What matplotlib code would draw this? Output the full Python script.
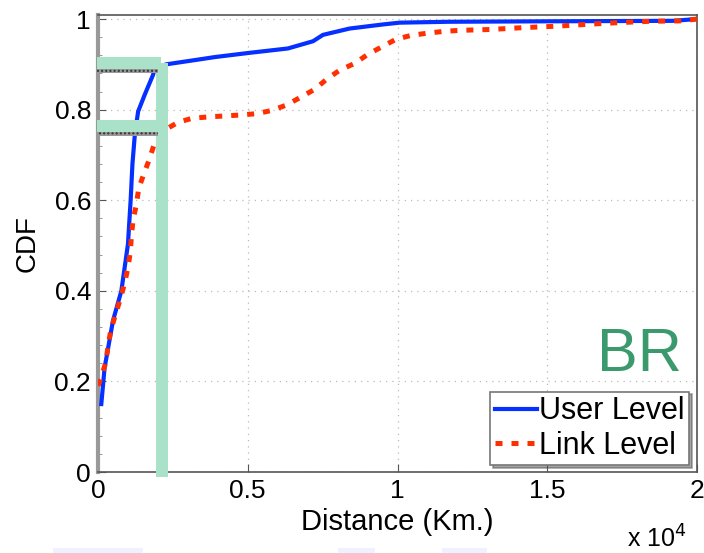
import numpy as np
import matplotlib.pyplot as plt
from matplotlib.patches import Rectangle

# ---- data (distance in km, CDF) ----
user_km = [110, 220, 500, 780, 1000, 1090, 1150, 1230, 1340, 1560, 1840, 1890,
           2280, 3400, 3900, 5010, 6340, 7180, 7510, 8400, 9510, 10070, 11740,
           15000, 19200, 20000]
user_cdf = [0.15, 0.23, 0.334, 0.40, 0.503, 0.60, 0.68, 0.745, 0.796, 0.833,
            0.877, 0.891, 0.90, 0.911, 0.916, 0.925, 0.935, 0.951, 0.965, 0.979,
            0.988, 0.992, 0.994, 0.995, 0.996, 1.0]

link_km = [0, 110, 260, 335, 425, 590, 750, 890, 1000, 1080, 1115, 1170, 1280, 1360,
           1530, 1690, 1870, 2230, 2670, 3150, 3710, 4730, 5290, 5790, 6290, 6730,
           7240, 7630, 8070, 8570, 9010, 9460, 9940, 10460, 11020, 11580, 12080,
           13130, 14180, 15250, 16250, 17360, 18420, 19520, 20000]
link_cdf = [0.19, 0.21, 0.242, 0.278, 0.312, 0.349, 0.383, 0.417, 0.451, 0.486,
            0.521, 0.556, 0.59, 0.626, 0.658, 0.686, 0.722, 0.755, 0.772, 0.781,
            0.784, 0.788, 0.791, 0.798, 0.810, 0.826, 0.845, 0.867, 0.887, 0.902,
            0.922, 0.938, 0.955, 0.964, 0.969, 0.973, 0.975, 0.977, 0.981, 0.984,
            0.988, 0.992, 0.995, 0.996, 1.0]

x_ticks = [0, 5000, 10000, 15000, 20000]
x_ticklabels = ["0", "0.5", "1", "1.5", "2"]
y_ticks = [0, 0.2, 0.4, 0.6, 0.8, 1.0]
y_ticklabels = ["0", "0.2", "0.4", "0.6", "0.8", "1"]

# highlight marks (km cut, CDF levels)
cut_km = 2120
cut_user = 0.902
cut_link = 0.763

plt.rcParams["font.family"] = ["Liberation Sans", "DejaVu Sans"]

fig = plt.figure(figsize=(7.04, 5.53), dpi=100)
ax = fig.add_axes([98 / 704, 81 / 553, 599 / 704, 457.5 / 553])

ax.plot(user_km, user_cdf, color="#0530ff", lw=3.0, label="User Level", zorder=3)
ax.plot(link_km, link_cdf, color="#ff2f00", lw=3.6, ls=(0, (1.4, 1.8)),
        label="Link Level", zorder=3)

ax.set_xlim(0, 20000)
ax.set_ylim(0, 1.01)
ax.set_xticks(x_ticks)
ax.set_xticklabels(x_ticklabels)
ax.set_yticks(y_ticks)
ax.set_yticklabels(y_ticklabels)
ax.set_yticks(np.arange(0, 1.01, 0.04), minor=True)
ax.tick_params(direction="in", labelsize=19, length=6, color="#555555", pad=5)
ax.tick_params(which="minor", direction="in", length=3, color="#888888")
ax.grid(True, ls=(0, (1, 4)), color="#bbbbbb", lw=0.9)
for s in ax.spines.values():
    s.set_color("#555555")
    s.set_linewidth(1.2)
ax.spines["left"].set_color("#999999")
ax.spines["left"].set_linewidth(3)

ax.set_xlabel("Distance (Km.)", fontsize=21, labelpad=4)
ax.set_ylabel("CDF", fontsize=20, labelpad=10)

fig.text(627 / 704, 1 - 548 / 553, "x 10$^4$", fontsize=18)

leg = ax.legend(loc="lower right", bbox_to_anchor=(0.997, 0.001), fontsize=22,
                handlelength=1.4, handletextpad=0.05, borderpad=0.15,
                labelspacing=0.15, borderaxespad=0.2, fancybox=False, shadow=True,
                edgecolor="#777777", framealpha=1)
leg.get_frame().set_linewidth(1.2)

ax.text(0.975, 0.193, "BR", transform=ax.transAxes, ha="right", va="bottom",
        fontsize=44, color="#3a9a6e")

# green highlight overlays
green = "#a9e2c9"
dx = 350
ax.add_patch(Rectangle((-50, cut_user - 0.012), cut_km + 50, 0.027,
                       facecolor=green, edgecolor="none", clip_on=False, zorder=4))
ax.add_patch(Rectangle((-50, cut_link - 0.012), cut_km + 50, 0.026,
                       facecolor=green, edgecolor="none", clip_on=False, zorder=4))
ax.add_patch(Rectangle((cut_km - dx / 2, -0.011), dx + 40, cut_user + 0.013,
                       facecolor=green, edgecolor="none", clip_on=False, zorder=4))
for lvl in [cut_user, cut_link]:
    ax.add_patch(Rectangle((-50, lvl - 0.022), cut_km - dx / 2 + 120, 0.010,
                           facecolor="#999999", edgecolor="#333333", hatch="....",
                           lw=0, clip_on=False, zorder=4))

# faint artefacts along the bottom edge
for x0, x1 in [(53, 143), (338, 375), (442, 487)]:
    fig.add_artist(Rectangle((x0 / 704, 0), (x1 - x0) / 704, 5 / 553,
                             transform=fig.transFigure, facecolor="#eef1ff",
                             edgecolor="none"))

fig.savefig("out.png", dpi=100)
